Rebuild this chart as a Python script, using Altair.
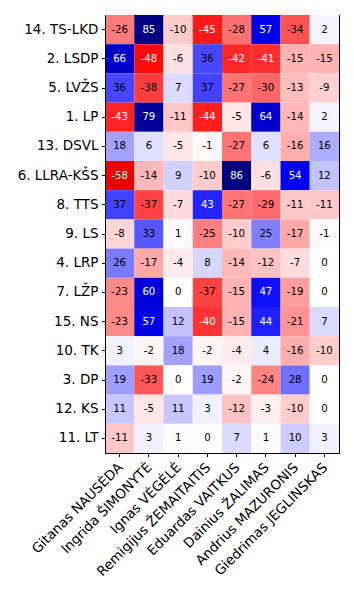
import altair as alt
import pandas as pd

rows = ["14. TS-LKD", "2. LSDP", "5. LVŽS", "1. LP", "13. DSVL", "6. LLRA-KŠS",
        "8. TTS", "9. LS", "4. LRP", "7. LŽP", "15. NS", "10. TK", "3. DP",
        "12. KS", "11. LT"]
cols = ["Gitanas NAUSĖDA", "Ingrida ŠIMONYTĖ", "Ignas VĖGĖLĖ",
        "Remigijus ŽEMAITAITIS", "Eduardas VAITKUS", "Dainius ŽALIMAS",
        "Andrius MAZURONIS", "Giedrimas JEGLINSKAS"]
values = [
    [-26, 85, -10, -45, -28, 57, -34, 2],
    [66, -48, -6, 36, -42, -41, -15, -15],
    [36, -38, 7, 37, -27, -30, -13, -9],
    [-43, 79, -11, -44, -5, 64, -14, 2],
    [18, 6, -5, -1, -27, 6, -16, 16],
    [-58, -14, 9, -10, 86, -6, 54, 12],
    [37, -37, -7, 43, -27, -29, -11, -11],
    [-8, 33, 1, -25, -10, 25, -17, -1],
    [26, -17, -4, 8, -14, -12, -7, 0],
    [-23, 60, 0, -37, -15, 47, -19, 0],
    [-23, 57, 12, -40, -15, 44, -21, 7],
    [3, -2, 18, -2, -4, 4, -16, -10],
    [19, -33, 0, 19, -2, -24, 28, 0],
    [11, -5, 11, 3, -12, -3, -10, 0],
    [-11, 3, 1, 0, 7, 1, 10, 3],
]

records = []
for r, row in zip(rows, values):
    for c, v in zip(cols, row):
        records.append({"party": r, "candidate": c, "value": v})
df = pd.DataFrame(records)

FONT = "DejaVu Sans"

base = alt.Chart(df).encode(
    x=alt.X("candidate:N", sort=cols, title=None,
            axis=alt.Axis(labelAngle=-45, labelAlign="right", labelBaseline="middle",
                          labelFontSize=13.5, labelFont=FONT, labelColor="black",
                          tickColor="black", tickSize=3.5, domainColor="black",
                          labelPadding=8.5, labelOffset=1, labelLimit=300)),
    y=alt.Y("party:N", sort=rows, title=None,
            axis=alt.Axis(labelFontSize=13.5, labelFont=FONT, labelColor="black",
                          tickColor="black", tickSize=3.5, domainColor="black",
                          labelPadding=3.5, labelLimit=300)),
)

rect = base.mark_rect().encode(
    color=alt.Color("value:Q", legend=None,
                    scale=alt.Scale(domain=[-100, -50, 0, 50, 100],
                                    range=["#800000", "#ff0000", "#ffffff", "#0000ff", "#00004d"],
                                    interpolate="rgb"))
)

text = base.mark_text(fontSize=10.2, font=FONT).transform_calculate(
    label="'' + datum.value"
).encode(
    text=alt.Text("label:N"),
    color=alt.condition("abs(datum.value) >= 40", alt.value("white"), alt.value("black")),
)

chart = (rect + text).properties(
    width=234, height=438,
    autosize=alt.AutoSizeParams(type="none"),
    padding={"left": 105, "top": 15, "right": 15, "bottom": 143},
).configure_view(stroke="black", strokeWidth=1).configure_axis(grid=False)

chart.save("out.html", embed_options={"renderer": "svg", "actions": False})
